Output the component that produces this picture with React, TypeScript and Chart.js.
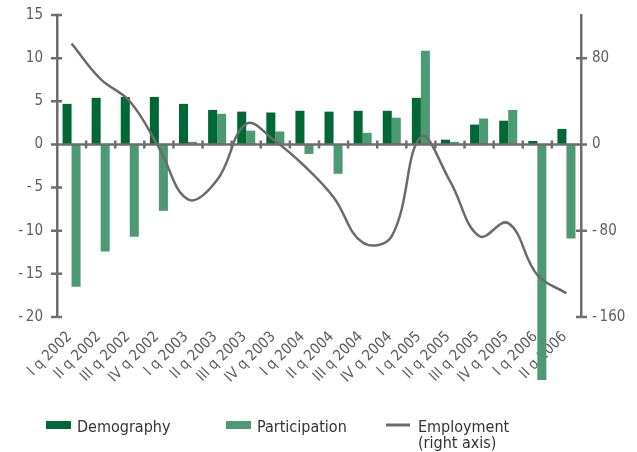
import { useEffect, useRef } from 'react';
import { Chart, registerables } from 'chart.js';
Chart.register(...registerables);

const categories = [
  'I q 2002', 'II q 2002', 'III q 2002', 'IV q 2002',
  'I q 2003', 'II q 2003', 'III q 2003', 'IV q 2003',
  'I q 2004', 'II q 2004', 'III q 2004', 'IV q 2004',
  'I q 2005', 'II q 2005', 'III q 2005', 'IV q 2005',
  'I q 2006', 'II q 2006',
];
const demography = [4.7, 5.4, 5.5, 5.5, 4.7, 4.0, 3.8, 3.7, 3.9, 3.8, 3.9, 3.9, 5.4, 0.55, 2.3, 2.75, 0.4, 1.8];
const participation = [-16.5, -12.4, -10.7, -7.7, 0.3, 3.55, 1.6, 1.5, -1.1, -3.4, 1.35, 3.1, 10.85, 0.3, 3.0, 4.0, -27.3, -10.9];
const employment = [93.5, 60.5, 40, -3, -51, -33, 19, 3, -20, -49, -91, -85, 7, -34, -85, -73, -121, -138];
const leftTicks = [15, 10, 5, 0, -5, -10, -15, -20];
const rightTicks = [80, 0, -80, -160];
const seriesLabels = ['Demography', 'Participation', 'Employment\n(right axis)'];

const FONT = '"Liberation Sans Narrow", "DejaVu Sans Condensed", "Roboto Condensed", "Open Sans", sans-serif';
const TEXT = '#5e5e5e';
const AXIS = '#6e6e6e';
const DARK = '#006837';
const LIGHT = '#4c9a74';
const LINE = '#6b6b6b';

function fmt(v: number): string {
  return v < 0 ? '-\u2009' + Math.abs(v) : String(v);
}

const decor = {
  id: 'decor',
  afterDatasetsDraw(chart: any) {
    const { ctx, chartArea, scales } = chart;
    const x = scales.x, yL = scales.y, yR = scales.y1;
    ctx.save();
    ctx.strokeStyle = AXIS;
    ctx.lineWidth = 2.5;
    ctx.beginPath();
    const y0 = yL.getPixelForValue(0);
    ctx.moveTo(chartArea.left, y0);
    ctx.lineTo(chartArea.right + 6, y0);
    for (let i = 0; i < categories.length - 1; i++) {
      const px = x.getPixelForValue(i + 0.5);
      ctx.moveTo(px, y0 - 4);
      ctx.lineTo(px, y0 + 4);
    }
    leftTicks.forEach((v) => {
      const py = yL.getPixelForValue(v);
      ctx.moveTo(chartArea.left - 6, py);
      ctx.lineTo(chartArea.left + 5, py);
    });
    rightTicks.forEach((v) => {
      const py = yR.getPixelForValue(v);
      ctx.moveTo(chartArea.right - 5, py);
      ctx.lineTo(chartArea.right + 6, py);
    });
    ctx.stroke();
    ctx.restore();
  },
  afterDraw(chart: any) {
    const { ctx } = chart;
    const slots = [46, 226, 386];
    ctx.save();
    ctx.font = '16px ' + FONT;
    ctx.textBaseline = 'alphabetic';
    chart.data.datasets.forEach((ds: any, i: number) => {
      const sx = slots[i];
      if (ds.type === 'line') {
        ctx.strokeStyle = ds.borderColor;
        ctx.lineWidth = 3;
        ctx.beginPath();
        ctx.moveTo(sx, 425);
        ctx.lineTo(sx + 24, 425);
        ctx.stroke();
      } else {
        ctx.fillStyle = ds.backgroundColor;
        ctx.fillRect(sx, 421, 25, 8);
      }
      ctx.fillStyle = '#333333';
      const lines = String(ds.label).split('\n');
      lines.forEach((t: string, j: number) => {
        ctx.fillText(t, sx + (ds.type === 'line' ? 32 : 31), 432 + j * 16);
      });
    });
    ctx.restore();
  },
};

export default function App() {
  const ref = useRef<HTMLCanvasElement>(null);
  useEffect(() => {
    document.body.style.margin = '0';
    const chart = new Chart(ref.current as HTMLCanvasElement, {
      type: 'bar',
      data: {
        labels: categories,
        datasets: [
          {
            type: 'bar',
            label: seriesLabels[0],
            data: demography,
            backgroundColor: DARK,
            yAxisID: 'y',
            order: 1,
            categoryPercentage: 0.62,
            barPercentage: 1,
            clip: false,
          } as any,
          {
            type: 'bar',
            label: seriesLabels[1],
            data: participation,
            backgroundColor: LIGHT,
            yAxisID: 'y',
            order: 2,
            categoryPercentage: 0.62,
            barPercentage: 1,
            clip: false,
          } as any,
          {
            type: 'line',
            label: seriesLabels[2],
            data: employment,
            borderColor: LINE,
            backgroundColor: LINE,
            borderWidth: 2.5,
            pointRadius: 0,
            tension: 0.4,
            yAxisID: 'y1',
            order: 0,
          } as any,
        ],
      },
      options: {
        responsive: false,
        animation: false,
        layout: { padding: { top: 15, left: 0, right: 0, bottom: 0 } },
        plugins: { legend: { display: false }, tooltip: { enabled: false } },
        scales: {
          x: {
            offset: true,
            grid: { display: false, drawTicks: false },
            border: { display: false },
            ticks: {
              autoSkip: false,
              minRotation: 45,
              maxRotation: 45,
              padding: 11,
              labelOffset: -2,
              color: TEXT,
              font: { family: FONT, size: 15 },
            },
            afterFit(s: any) { s.height = 135; s.paddingLeft = 0; s.paddingRight = 0; },
          },
          y: {
            position: 'left',
            min: -20,
            max: 15,
            grid: { display: false, drawTicks: false },
            border: { display: true, color: AXIS, width: 2.5 },
            ticks: {
              padding: 14,
              color: TEXT,
              font: { family: FONT, size: 15 },
              callback: (v: any) => fmt(Number(v)),
            },
            afterBuildTicks(s: any) { s.ticks = leftTicks.map((v) => ({ value: v })); },
            afterFit(s: any) { s.width = 57; s.paddingTop = 0; s.paddingBottom = 0; },
          },
          y1: {
            position: 'right',
            min: -160,
            max: 120,
            grid: { display: false, drawTicks: false },
            border: { display: true, color: AXIS, width: 2.5 },
            ticks: {
              padding: 11,
              color: TEXT,
              font: { family: FONT, size: 15 },
              callback: (v: any) => fmt(Number(v)),
            },
            afterBuildTicks(s: any) { s.ticks = rightTicks.map((v) => ({ value: v })); },
            afterFit(s: any) { s.width = 56; s.paddingTop = 0; s.paddingBottom = 0; },
          },
        } as any,
      },
      plugins: [decor],
    });
    return () => chart.destroy();
  }, []);
  return (
    <div style={{ width: 637, height: 452 }}>
      <canvas ref={ref} width={637} height={452} />
    </div>
  );
}
